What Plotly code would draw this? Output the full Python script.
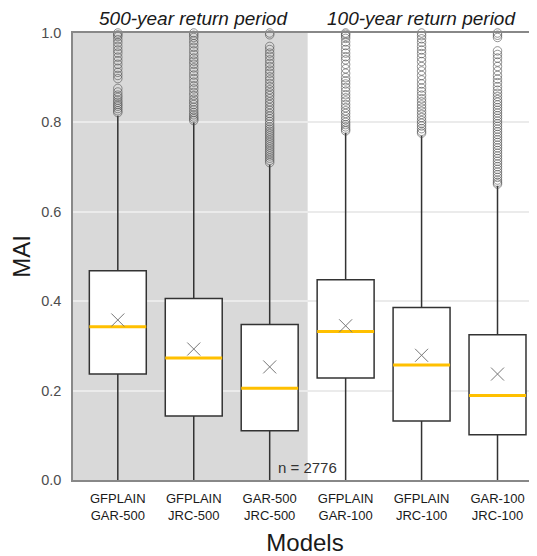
import plotly.graph_objects as go

models = ["GFPLAIN<br>GAR-500", "GFPLAIN<br>JRC-500", "GAR-500<br>JRC-500",
          "GFPLAIN<br>GAR-100", "GFPLAIN<br>JRC-100", "GAR-100<br>JRC-100"]
positions = [0, 1, 2, 3, 4, 5]
q1 = [0.237, 0.143, 0.110, 0.228, 0.132, 0.101]
median = [0.343, 0.273, 0.205, 0.332, 0.257, 0.189]
q3 = [0.468, 0.406, 0.348, 0.448, 0.386, 0.325]
lower = [0.0, 0.0, 0.0, 0.0, 0.0, 0.0]
upper = [0.815, 0.800, 0.705, 0.777, 0.770, 0.658]
means = [0.358, 0.293, 0.253, 0.345, 0.279, 0.237]

out1 = [1.0, 0.996, 0.992, 0.985, 0.978, 0.97, 0.962, 0.955, 0.946, 0.938, 0.93, 0.921,
        0.912, 0.905, 0.898, 0.876, 0.868, 0.861, 0.856, 0.85, 0.845, 0.84, 0.836, 0.831,
        0.826, 0.822]
out2 = [1.0, 0.995, 0.99, 0.983, 0.976, 0.968, 0.96, 0.952, 0.944, 0.937, 0.93, 0.922,
        0.914, 0.906, 0.898, 0.89, 0.882, 0.875, 0.867, 0.86, 0.852, 0.846, 0.84, 0.834,
        0.828, 0.822, 0.817, 0.812, 0.808, 0.804]
out3 = [1.0, 0.996, 0.97, 0.963, 0.955, 0.948, 0.94, 0.932, 0.925, 0.917, 0.91, 0.902,
        0.895, 0.887, 0.88, 0.873, 0.866, 0.86, 0.853, 0.846, 0.84, 0.833, 0.827, 0.82,
        0.814, 0.808, 0.802, 0.796, 0.79, 0.785, 0.78, 0.775, 0.77, 0.765, 0.76, 0.755,
        0.75, 0.745, 0.74, 0.735, 0.73, 0.725, 0.72, 0.715, 0.71]
out4 = [1.0, 0.997, 0.993, 0.988, 0.98, 0.972, 0.963, 0.955, 0.947, 0.94, 0.93, 0.92,
        0.91, 0.9, 0.893, 0.886, 0.878, 0.87, 0.862, 0.855, 0.848, 0.84, 0.833, 0.826,
        0.82, 0.813, 0.806, 0.8, 0.795, 0.79, 0.785, 0.781]
out5 = [1.0, 0.994, 0.987, 0.979, 0.97, 0.962, 0.954, 0.945, 0.936, 0.925, 0.915, 0.905,
        0.895, 0.886, 0.877, 0.869, 0.861, 0.853, 0.846, 0.839, 0.832, 0.825, 0.818,
        0.811, 0.804, 0.798, 0.792, 0.786, 0.78, 0.776]
out6 = [1.0, 0.995, 0.99, 0.96, 0.952, 0.944, 0.935, 0.925, 0.915, 0.905, 0.897, 0.889,
        0.88, 0.872, 0.865, 0.858, 0.851, 0.845, 0.839, 0.833, 0.827, 0.821, 0.815, 0.809,
        0.803, 0.797, 0.791, 0.785, 0.779, 0.773, 0.767, 0.761, 0.755, 0.749, 0.743,
        0.737, 0.731, 0.725, 0.719, 0.713, 0.707, 0.701, 0.695, 0.689, 0.683, 0.677,
        0.671, 0.666, 0.662]
outliers = [out1, out2, out3, out4, out5, out6]

yticks = [0.0, 0.2, 0.4, 0.6, 0.8, 1.0]
ytick_text = ["0.0", "0.2", "0.4", "0.6", "0.8", "1.0"]
n_label = "n = 2776"
panel_titles = ["500-year return period", "100-year return period"]

FONT = "Liberation Sans, Arial"

fig = go.Figure()

# boxes
fig.add_trace(go.Box(
    x=positions, q1=q1, median=median, q3=q3, lowerfence=lower, upperfence=upper,
    width=0.75, whiskerwidth=0, fillcolor="white", line=dict(color="#333333", width=1.5),
    boxpoints=False, showlegend=False, hoverinfo="skip"))
# yellow medians (degenerate boxes at the median)
fig.add_trace(go.Box(
    x=positions, q1=median, median=median, q3=median, lowerfence=median, upperfence=median,
    width=0.75, whiskerwidth=0, fillcolor="rgba(0,0,0,0)", line=dict(color="#FFC000", width=3),
    boxpoints=False, showlegend=False, hoverinfo="skip"))

# outliers
ox, oy = [], []
for p, vals in zip(positions, outliers):
    ox += [p] * len(vals)
    oy += vals
fig.add_trace(go.Scatter(
    x=ox, y=oy, mode="markers", showlegend=False, cliponaxis=False,
    marker=dict(symbol="circle-open", size=8.5, color="rgba(80,80,80,0.6)",
                line=dict(width=1))))

# means
fig.add_trace(go.Scatter(
    x=positions, y=means, mode="markers", showlegend=False,
    marker=dict(symbol="x-thin", size=13, line=dict(width=1, color="#777777"))))

fig.add_shape(type="rect", xref="x", yref="paper", x0=-0.7, x1=2.5, y0=0, y1=1,
              fillcolor="#d9d9d9", line=dict(width=0), layer="below")

fig.add_annotation(x=1.0, xref="x", y=1.0, yref="paper", yanchor="bottom", yshift=2,
                   text="<i>" + panel_titles[0] + "</i>", showarrow=False,
                   font=dict(size=19, color="#1a1a1a", family=FONT))
fig.add_annotation(x=4.0, xref="x", y=1.0, yref="paper", yanchor="bottom", yshift=2,
                   text="<i>" + panel_titles[1] + "</i>", showarrow=False,
                   font=dict(size=19, color="#1a1a1a", family=FONT))
fig.add_annotation(x=2.5, xref="x", y=0.0, yref="y", yanchor="bottom", yshift=2,
                   text=n_label, showarrow=False,
                   font=dict(size=15, color="#333333", family=FONT))

# page body has an 8px default margin: size the figure so it ends at the window edge
fig.update_layout(
    width=529, height=548,
    margin=dict(l=65, r=0, t=25, b=76),
    plot_bgcolor="white", paper_bgcolor="white",
    boxmode="overlay",
    font=dict(family=FONT, color="#333333"),
    xaxis=dict(range=[-0.59, 5.52], tickvals=positions, ticktext=models, automargin=False,
               showgrid=False, zeroline=False, showline=True, linecolor="#888888",
               linewidth=1.5, mirror=True, ticks="", ticklabelstandoff=6,
               tickfont=dict(size=13, color="#1a1a1a"),
               title=dict(text="Models", font=dict(size=24, color="#1a1a1a"), standoff=12)),
    yaxis=dict(range=[0, 1], tickvals=yticks, ticktext=ytick_text, automargin=False,
               showgrid=True, gridcolor="#ebebeb", gridwidth=1.5, zeroline=False,
               showline=True, linecolor="#888888", linewidth=1.5, mirror=True,
               ticks="", ticklabelstandoff=7, tickfont=dict(size=14.5, color="#4d4d4d"),
               title=dict(text="MAI", font=dict(size=24, color="#1a1a1a"), standoff=12)),
)

fig.write_html("out.html")
